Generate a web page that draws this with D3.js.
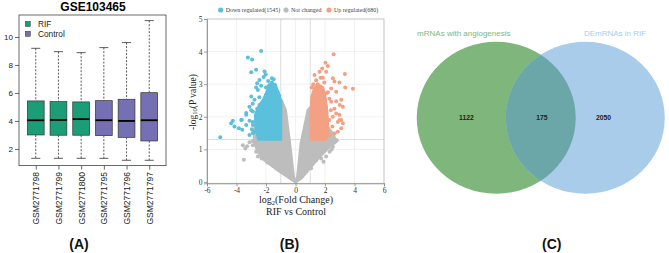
<!DOCTYPE html>
<html><head><meta charset="utf-8">
<script src="https://cdn.jsdelivr.net/npm/d3@7"></script>
<style>body{margin:0;background:#fff}svg{display:block}</style>
</head><body>
<svg id="c" width="669" height="253"></svg>
<script>
// ---------- Panel A data ----------
const samples = ["GSM2771798","GSM2771799","GSM2771800","GSM2771795","GSM2771796","GSM2771797"];
const sampleGroup = ["RIF","RIF","RIF","Control","Control","Control"];
const whiskerLow = [1.33,1.33,1.33,1.33,1.19,1.19];
const q1 = [3.00,2.98,2.98,2.95,2.83,2.57];
const median = [4.05,4.07,4.13,4.05,4.00,4.05];
const q3 = [5.43,5.38,5.36,5.45,5.55,6.02];
const whiskerHigh = [9.19,8.95,8.88,9.24,9.60,11.17];
const boxTicks = [2,4,6,8,10];
const groupNames = ["RIF","Control"];

// ---------- Panel B data ----------
const volcanoLegend = ["Down regulated(1545)","Not changed","Up regulated(680)"];
const fcTicks = [-6,-4,-2,0,2,4,6];
const pTicks = [0,1,2,3,4,5];
const fcCut = [-1,1];
const pCut = 1.3;
const grayLeftArea = [[0,0],[-0.4,0.12],[-1.2,0.37],[-2.1,0.67],[-2.55,0.93],[-2.8,1.25],[-2.7,2.0],[-1.1,2.55],[-0.95,2.5],[-0.68,2.2],[-0.4,1.2],[-0.14,0.16]];
const grayRightArea = [[0,0],[0.14,0.16],[0.38,1.19],[0.85,2.2],[1.05,2.3],[2.5,1.5],[2.76,1.24],[2.3,1.08],[1.63,0.78],[0.95,0.42],[0.4,0.12]];
const downArea = [[-1,1.31],[-2.5,1.31],[-2.65,1.6],[-2.72,2.05],[-2.45,2.35],[-2.2,2.5],[-1.9,2.8],[-1.75,3.0],[-1.38,3.0],[-1.1,2.62],[-1,2.5]];
const upArea = [[1.06,1.31],[2.05,1.31],[2.2,1.6],[2.15,2.0],[2.1,2.3],[2.0,2.6],[1.85,2.9],[1.55,2.98],[1.3,2.9],[1.1,2.6],[1.06,2.2]];
const downPoints = [[-2.33,4.02],[-3.23,3.82],[-2.94,3.76],[-3.0,3.37],[-2.67,3.44],[-2.1,3.39],[-2.02,3.3],[-2.16,3.22],[-1.6,3.18],[-1.48,3.15],[-2.44,3.13],[-2.6,3.03],[-2.33,2.95],[-2.55,2.82],[-2.67,2.9],[-1.99,2.67],[-3.0,2.62],[-2.78,2.52],[-2.9,2.4],[-2.44,2.36],[-3.12,2.31],[-3.0,2.2],[-3.34,2.12],[-2.89,2.16],[-2.67,2.05],[-3.34,2.06],[-3.68,1.9],[-4.25,1.88],[-3.12,1.88],[-2.9,1.84],[-5.1,1.37],[-4.36,1.8],[-4.14,1.7],[-3.84,1.65],[-3.61,1.6],[-3.12,1.44],[-2.89,1.75],[-2.78,1.54],[-3.34,1.75],[-3.64,1.9],[-2.67,1.54],[-1.85,3.1],[-1.4,2.95],[-2.0,2.9],[-1.2,2.75],[-2.45,2.6],[-2.6,2.25],[-1.8,2.95],[-1.1,2.65],[-1.6,3.05],[-2.9,1.5],[-2.95,1.62]];
const upPoints = [[2.58,3.92],[2.03,3.66],[2.19,3.56],[1.81,3.48],[1.63,3.38],[2.08,3.38],[1.29,3.28],[1.7,3.2],[3.35,3.31],[3.37,2.9],[3.89,2.86],[2.53,3.18],[2.64,3.08],[2.98,3.05],[2.42,2.87],[2.76,2.77],[2.08,2.72],[3.1,2.52],[2.76,2.48],[2.42,2.46],[3.21,2.31],[2.64,2.25],[2.98,2.06],[2.53,2.0],[3.1,1.9],[2.87,1.84],[3.21,1.8],[3.1,1.65],[2.87,1.54],[2.98,1.9],[2.64,1.49],[2.31,1.44],[2.76,2.1],[3.0,2.36],[2.5,1.7],[2.3,1.9],[2.4,2.2],[1.5,3.0],[1.95,3.05],[1.2,3.0],[1.4,3.12],[1.1,2.9],[2.2,2.75],[1.85,3.2],[2.3,2.55]];
const grayPoints = [[-3.12,1.22],[-3.28,1.1],[-3.41,1.03],[-2.89,1.13],[-2.67,0.93],[-3.5,0.68],[-2.55,0.78],[-3.57,1.13],[-2.9,1.26],[-2.3,0.72],[-1.9,0.6],[2.64,1.24],[2.53,1.08],[2.31,0.93],[2.08,0.78],[1.74,0.72],[1.4,0.67],[1.06,0.42],[2.8,1.28],[1.9,0.62],[2.45,1.0]];

// ---------- Panel C data ----------
const vennSets = ["mRNAs with angiogenesis","DEmRNAs in RIF"];
const vennCounts = [1122,175,2050];
const vennCentres = [-0.56,0.56];   // layout in unit-radius coordinates

const panelLabels = ["(A)","(B)","(C)"];

const svg = d3.select("#c");
const SANS = "Arial, 'Liberation Sans', sans-serif";
const SERIF = "'Liberation Serif', 'Times New Roman', serif";

// ================= Panel A =================
const gA = svg.append("g");
const xA = d3.scalePoint().domain(samples).range([19,166]).padding(0.738);
const yA = d3.scaleLinear().domain([0.81,11.57]).range([165.6,15]);
const colA = d3.scaleOrdinal().domain(groupNames).range(["#1B9E77","#7570B3"]);
const bw = xA.step()*0.74, cap = xA.step()*0.4;

gA.append("text").attr("x",93).attr("y",10.5).attr("text-anchor","middle")
  .attr("font-family",SANS).attr("font-weight","bold").attr("font-size",12).text("GSE103465");

samples.forEach((s,i)=>{
  const cx = xA(s);
  const g = gA.append("g");
  [[whiskerHigh[i],q3[i]],[q1[i],whiskerLow[i]]].forEach(([a,b])=>{
    g.append("line").attr("x1",cx).attr("x2",cx).attr("y1",yA(a)).attr("y2",yA(b))
      .attr("stroke","#333").attr("stroke-width",0.8).attr("stroke-dasharray","2,1.5");
  });
  [whiskerHigh[i],whiskerLow[i]].forEach(v=>{
    g.append("line").attr("x1",cx-cap/2).attr("x2",cx+cap/2).attr("y1",yA(v)).attr("y2",yA(v))
      .attr("stroke","#333").attr("stroke-width",0.8);
  });
  g.append("rect").attr("x",cx-bw/2).attr("width",bw).attr("y",yA(q3[i])).attr("height",yA(q1[i])-yA(q3[i]))
    .attr("fill",colA(sampleGroup[i])).attr("stroke","#333").attr("stroke-width",0.7);
  g.append("line").attr("x1",cx-bw/2).attr("x2",cx+bw/2).attr("y1",yA(median[i])).attr("y2",yA(median[i]))
    .attr("stroke","#000").attr("stroke-width",1.8);
});
gA.append("rect").attr("x",19).attr("y",15).attr("width",147).attr("height",150.6)
  .attr("fill","none").attr("stroke","#444").attr("stroke-width",0.8);
const axA = gA.append("g").attr("transform","translate(19,0)")
  .call(d3.axisLeft(yA).tickValues(boxTicks).tickSize(4).tickPadding(2));
axA.select(".domain").remove();
axA.selectAll("line").attr("stroke","#444").attr("stroke-width",0.8);
axA.selectAll("text").attr("font-family",SANS).attr("font-size",8).attr("fill","#222");
const axAx = gA.append("g").attr("transform","translate(0,165.6)")
  .call(d3.axisBottom(xA).tickSize(4).tickPadding(2));
axAx.select(".domain").remove();
axAx.selectAll("line").attr("stroke","#444").attr("stroke-width",0.8);
axAx.selectAll("text").attr("font-family",SANS).attr("font-size",8.5).attr("fill","#222")
  .attr("text-anchor","end").attr("transform","rotate(-90)").attr("dy","0.35em").attr("x",-6.5).attr("y",0);
groupNames.forEach((n,i)=>{
  gA.append("rect").attr("x",25.3).attr("y",21.5+i*9.8).attr("width",5).attr("height",5)
    .attr("fill",colA(n)).attr("stroke","#333").attr("stroke-width",0.5);
  gA.append("text").attr("x",38).attr("y",27+i*9.8).attr("font-family",SANS).attr("font-size",8.3)
    .attr("fill","#222").text(n);
});

// ================= Panel B =================
const gB = svg.append("g");
const xB = d3.scaleLinear().domain([-6,6]).range([207,384]);
const yB = d3.scaleLinear().domain([-0.04,5]).range([183.3,19]);
const cBlue = "#5BC0DC", cRed = "#F3A083", cGray = "#BDBDBD";
// grid
fcTicks.slice(1,-1).forEach(v=>gB.append("line").attr("x1",xB(v)).attr("x2",xB(v)).attr("y1",yB(5)).attr("y2",yB(-0.04))
  .attr("stroke","#ebebeb").attr("stroke-width",0.7));
pTicks.slice(1,-1).forEach(v=>gB.append("line").attr("x1",xB(-6)).attr("x2",xB(6)).attr("y1",yB(v)).attr("y2",yB(v))
  .attr("stroke","#ebebeb").attr("stroke-width",0.7));
fcCut.forEach(v=>gB.append("line").attr("x1",xB(v)).attr("x2",xB(v)).attr("y1",yB(5)).attr("y2",yB(-0.04))
  .attr("stroke","#d4d4d4").attr("stroke-width",0.8));
gB.append("line").attr("x1",xB(-6)).attr("x2",xB(6)).attr("y1",yB(pCut)).attr("y2",yB(pCut))
  .attr("stroke","#d4d4d4").attr("stroke-width",0.8);

const area = d3.line().x(d=>xB(d[0])).y(d=>yB(d[1])).curve(d3.curveLinearClosed);
function drawArea(pts,col){
  gB.append("path").attr("d",area(pts)).attr("fill",col).attr("stroke",col)
    .attr("stroke-width",3).attr("stroke-linejoin","round");
}
function drawPts(pts,col){
  gB.append("g").selectAll("circle").data(pts).join("circle")
    .attr("cx",d=>xB(d[0])).attr("cy",d=>yB(d[1])).attr("r",2).attr("fill",col);
}
drawArea(grayLeftArea,cGray); drawArea(grayRightArea,cGray); drawPts(grayPoints,cGray);
drawArea(downArea,cBlue); drawPts(downPoints,cBlue);
drawArea(upArea,cRed); drawPts(upPoints,cRed);

gB.append("rect").attr("x",xB(-6)).attr("y",yB(5)).attr("width",xB(6)-xB(-6)).attr("height",yB(-0.04)-yB(5))
  .attr("fill","none").attr("stroke","#b5b5b5").attr("stroke-width",0.8);
const axBy = gB.append("g").attr("transform",`translate(${xB(-6)},0)`)
  .call(d3.axisLeft(yB).tickValues(pTicks).tickFormat(d=>String(d)).tickSize(3).tickPadding(1.5));
const axBx = gB.append("g").attr("transform",`translate(0,${yB(-0.04)})`)
  .call(d3.axisBottom(xB).tickValues(fcTicks).tickFormat(d=>String(d)).tickSize(3).tickPadding(1.5));
[axBy,axBx].forEach(a=>{
  a.selectAll("path,line").attr("stroke","#888").attr("stroke-width",0.8);
  a.selectAll("text").attr("font-family",SERIF).attr("font-size",7.5).attr("fill","#333");
});
// legend
const legX = [220.7,286,329];
const legC = [cBlue,cGray,cRed];
volcanoLegend.forEach((t,i)=>{
  gB.append("circle").attr("cx",legX[i]).attr("cy",10).attr("r",2.6).attr("fill",legC[i]);
  gB.append("text").attr("x",legX[i]+5).attr("y",12).attr("font-family",SERIF).attr("font-size",6)
    .attr("fill","#444").text(t);
});
// titles
const tx = gB.append("text").attr("x",296).attr("y",203).attr("text-anchor","middle")
  .attr("font-family",SERIF).attr("font-size",10).attr("fill","#222");
tx.append("tspan").text("log");
tx.append("tspan").attr("font-size",6.5).attr("dy",1.5).text("2");
tx.append("tspan").attr("dy",-1.5).text("(Fold Change)");
gB.append("text").attr("x",296).attr("y",215).attr("text-anchor","middle")
  .attr("font-family",SERIF).attr("font-size",10).attr("fill","#222").text("RIF vs Control");
const ty = gB.append("text").attr("transform","translate(195.5,102) rotate(-90)").attr("text-anchor","middle")
  .attr("font-family",SERIF).attr("font-size",9.5).attr("fill","#222");
ty.append("tspan").text("-log");
ty.append("tspan").attr("font-size",6.5).attr("dy",1.5).text("10");
ty.append("tspan").attr("dy",-1.5).text("(P value)");

// ================= Panel C =================
const gC = svg.append("g");
const vx = d3.scaleLinear().domain([-1,1]).range([540.75-79.5,540.75+79.5]);
const vy = d3.scaleLinear().domain([-1,1]).range([117.8-76,117.8+76]);
const vCols = ["#7EB67C","#A9CCEA"];
const rx = vx(1)-vx(0), ry = vy(1)-vy(0);
const defs = svg.append("defs");
defs.append("clipPath").attr("id","clipB").append("ellipse")
  .attr("cx",vx(vennCentres[1])).attr("cy",vy(0)).attr("rx",rx).attr("ry",ry);
vennCentres.forEach((c,i)=>{
  gC.append("ellipse").attr("cx",vx(c)).attr("cy",vy(0)).attr("rx",rx).attr("ry",ry).attr("fill",vCols[i]);
});
gC.append("ellipse").attr("cx",vx(vennCentres[0])).attr("cy",vy(0)).attr("rx",rx).attr("ry",ry)
  .attr("fill","#6BA6A8").attr("clip-path","url(#clipB)");
const setLabelX = [463.8,615];
vennSets.forEach((t,i)=>{
  gC.append("text").attr("x",setLabelX[i]).attr("y",36).attr("text-anchor","middle")
    .attr("font-family",SANS).attr("font-size",8).attr("fill",vCols[i]).text(t);
});
const countX = [vx(-0.935),vx(0.015),vx(0.79)];
vennCounts.forEach((n,i)=>{
  gC.append("text").attr("x",countX[i]).attr("y",vy(0)+2.3).attr("text-anchor","middle")
    .attr("font-family",SANS).attr("font-weight","bold").attr("font-size",6.8).attr("fill","#222").text(n);
});

// ================= Panel labels =================
const labelX = [79,289.5,551.7];
panelLabels.forEach((t,i)=>{
  svg.append("text").attr("x",labelX[i]).attr("y",249).attr("text-anchor","middle")
    .attr("font-family",SANS).attr("font-weight","bold").attr("font-size",14).attr("fill","#111").text(t);
});
</script>
</body></html>
